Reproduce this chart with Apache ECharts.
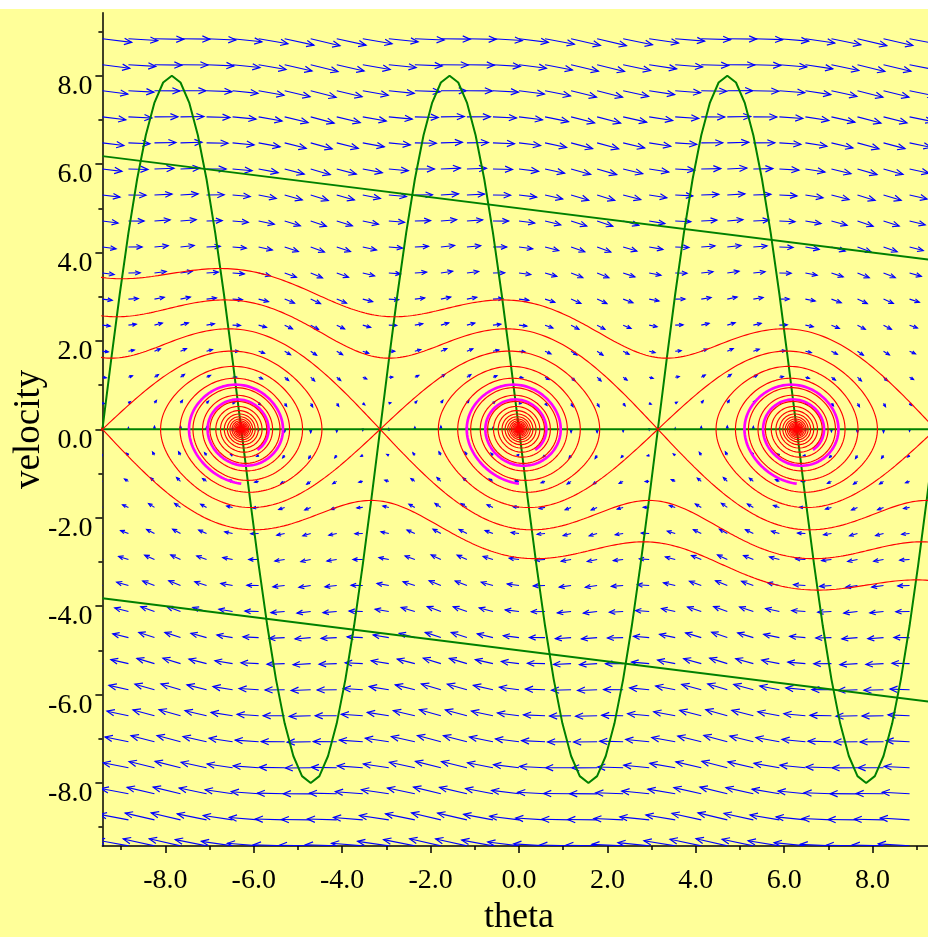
<!DOCTYPE html>
<html>
<head>
<meta charset="utf-8">
<script src="https://cdn.jsdelivr.net/npm/echarts@6/dist/echarts.min.js"></script>
<style>
html,body{margin:0;padding:0;background:#ffffff;width:928px;height:937px;overflow:hidden;}
#chart{position:absolute;left:0;top:9px;width:928px;height:928px;background:#ffff99;}
</style>
</head>
<body>
<div id="chart"></div>
<script>
const PI = Math.PI;

// ---- axes (both axes run from -3π to 3π) ----
const thetaMin = -3 * PI, thetaMax = 3 * PI;
const velMin = -3 * PI, velMax = 3 * PI;
const majorTicks = [-8, -6, -4, -2, 0, 2, 4, 6, 8];
const minorTicks = [-9, -7, -5, -3, -1, 1, 3, 5, 7, 9];
const xTitle = 'theta';
const yTitle = 'velocity';

// ---- damped pendulum: theta' = v, v' = -damping*v - gravity*sin(theta) ----
const gravity = 1.0;
const damping = 0.125;
const arrowScale = 0.075;       // arrow length per unit of field magnitude
const dirGridCount = 32;        // direction-field grid, 32 x 32
const saddleThetas = [-3 * PI, -PI, PI, 3 * PI];
const centerThetas = [-2 * PI, 0, 2 * PI];
const magentaStartV = -1.23;    // sample trajectory starts below each centre
const magentaDuration = 12.6;

// ---- green curves ----
// nullcline sampled every π/16 from -3π to 3π
const nullSineV = [
  0, 1.561, 3.061, 4.445, 5.657, 6.652, 7.391, 7.846, 8, 7.846, 7.391, 6.652, 5.657, 4.445, 3.061, 1.561,
  0, -1.561, -3.061, -4.445, -5.657, -6.652, -7.391, -7.846, -8, -7.846, -7.391, -6.652, -5.657, -4.445, -3.061, -1.561,
  0, 1.561, 3.061, 4.445, 5.657, 6.652, 7.391, 7.846, 8, 7.846, 7.391, 6.652, 5.657, 4.445, 3.061, 1.561,
  0, -1.561, -3.061, -4.445, -5.657, -6.652, -7.391, -7.846, -8, -7.846, -7.391, -6.652, -5.657, -4.445, -3.061, -1.561,
  0, 1.561, 3.061, 4.445, 5.657, 6.652, 7.391, 7.846, 8, 7.846, 7.391, 6.652, 5.657, 4.445, 3.061, 1.561,
  0, -1.561, -3.061, -4.445, -5.657, -6.652, -7.391, -7.846, -8, -7.846, -7.391, -6.652, -5.657, -4.445, -3.061, -1.561,
  0
];
const zeroLine = [[thetaMin, 0], [thetaMax, 0]];
const upperLine = [[thetaMin, 6.18], [thetaMax, 3.82]];
const lowerLine = [[thetaMin, -3.82], [thetaMax, -6.18]];

// ---------------------------------------------------------------
function deriv(th, v) { return [v, -damping * v - gravity * Math.sin(th)]; }

function integrate(th, v, dt, tMax) {
  const pts = [[th, v]];
  const n = Math.round(tMax / Math.abs(dt));
  for (let i = 0; i < n; i++) {
    const k1 = deriv(th, v);
    const k2 = deriv(th + dt / 2 * k1[0], v + dt / 2 * k1[1]);
    const k3 = deriv(th + dt / 2 * k2[0], v + dt / 2 * k2[1]);
    const k4 = deriv(th + dt * k3[0], v + dt * k3[1]);
    th += dt / 6 * (k1[0] + 2 * k2[0] + 2 * k3[0] + k4[0]);
    v += dt / 6 * (k1[1] + 2 * k2[1] + 2 * k3[1] + k4[1]);
    pts.push([th, v]);
    if (th < thetaMin - 1 || th > thetaMax + 1 || v < velMin - 1 || v > velMax + 1) break;
  }
  return pts;
}

const nullSine = nullSineV.map((v, i) => [thetaMin + i * PI / 16, v]);

// direction field
const step = (thetaMax - thetaMin) / dirGridCount;
const arrows = [];
for (let i = 0; i < dirGridCount; i++) {
  for (let j = 0; j < dirGridCount; j++) {
    const th = thetaMin + j * step, v = velMin + i * step;
    const d = deriv(th, v);
    arrows.push([th, v, d[0] * arrowScale, d[1] * arrowScale]);
  }
}

// separatrices through every saddle
const disc = Math.sqrt(damping * damping + 4 * gravity);
const lamU = (-damping + disc) / 2, lamS = (-damping - disc) / 2;
const eps = 1e-5;
const redPaths = [];
saddleThetas.forEach(s => {
  redPaths.push(integrate(s + eps, eps * lamU, 0.02, 110));
  redPaths.push(integrate(s - eps, -eps * lamU, 0.02, 110));
  redPaths.push(integrate(s - eps, -eps * lamS, -0.02, 60));
  redPaths.push(integrate(s + eps, eps * lamS, -0.02, 60));
});
const magentaPaths = centerThetas.map(c => integrate(c, magentaStartV, 0.02, magentaDuration));

// ---------------------------------------------------------------
const chart = echarts.init(document.getElementById('chart'), null, { renderer: 'canvas' });
const serif = '"Liberation Serif", "Times New Roman", serif';
const labelFont = { fontFamily: serif, fontSize: 28, color: '#000' };
const axisLineStyle = { color: '#000', width: 1.5 };

const series = [];
series.push({
  type: 'custom', name: 'field', data: arrows, clip: true, silent: true, animation: false, z: 2,
  renderItem: function (params, api) {
    const th = api.value(0), v = api.value(1), dth = api.value(2), dv = api.value(3);
    const p0 = api.coord([th, v]);
    const p1 = api.coord([th + dth, v + dv]);
    const dx = p1[0] - p0[0], dy = p1[1] - p0[1];
    const L = Math.hypot(dx, dy);
    if (L < 0.5) {
      return { type: 'rect', shape: { x: p0[0] - 0.7, y: p0[1] - 0.7, width: 1.4, height: 1.4 }, style: { fill: '#0000ff' } };
    }
    const ux = dx / L, uy = dy / L;
    const h = Math.min(7.5, 0.3 * L + 1.6);
    const w = h * 0.42;
    const bx = p1[0] - ux * h, by = p1[1] - uy * h;
    return {
      type: 'group', children: [
        { type: 'line', shape: { x1: p0[0], y1: p0[1], x2: p1[0], y2: p1[1] }, style: { stroke: '#0000ff', lineWidth: 1.1 } },
        { type: 'polyline', shape: { points: [[bx - uy * w, by + ux * w], [p1[0], p1[1]], [bx + uy * w, by - ux * w]] }, style: { stroke: '#0000ff', fill: null, lineWidth: 1.2 } }
      ]
    };
  }
});

function lineSeries(data, color, width, z) {
  return { type: 'line', data: data, showSymbol: false, symbol: 'none', clip: true, silent: true, animation: false,
    lineStyle: { color: color, width: width }, z: z };
}
[zeroLine, nullSine, upperLine, lowerLine].forEach(d => series.push(lineSeries(d, '#008000', 2, 3)));
magentaPaths.forEach(d => series.push(lineSeries(d, '#ff00ff', 2.7, 4)));
redPaths.forEach(d => series.push(lineSeries(d, '#ff0000', 1.15, 5)));

const fmt = v => Number(v).toFixed(1);

chart.setOption({
  animation: false,
  backgroundColor: 'transparent',
  grid: { left: 102.4, top: 3.7, width: 833.2, height: 833.2, containLabel: false, outerBoundsMode: 'none' },
  xAxis: [
    {
      type: 'value', min: thetaMin, max: thetaMax, position: 'bottom',
      name: xTitle, nameLocation: 'middle', nameGap: 51,
      nameTextStyle: { fontFamily: serif, fontSize: 36, color: '#000', lineHeight: 36 },
      axisLine: { show: true, onZero: false, lineStyle: axisLineStyle },
      axisTick: { show: true, length: 7, customValues: majorTicks, lineStyle: axisLineStyle },
      axisLabel: Object.assign({ show: true, customValues: majorTicks, formatter: fmt, margin: 21, lineHeight: 28 }, labelFont),
      splitLine: { show: false }
    },
    {
      type: 'value', min: thetaMin, max: thetaMax, position: 'bottom',
      axisLine: { show: false, onZero: false },
      axisTick: { show: true, length: 4, customValues: minorTicks, lineStyle: axisLineStyle },
      axisLabel: { show: false }, splitLine: { show: false }
    }
  ],
  yAxis: [
    {
      type: 'value', min: velMin, max: velMax, position: 'left',
      name: yTitle, nameLocation: 'middle', nameGap: 55, nameRotate: 90, nameMoveOverlap: false,
      nameTextStyle: { fontFamily: serif, fontSize: 37, color: '#000', lineHeight: 37 },
      axisLine: { show: true, onZero: false, lineStyle: axisLineStyle },
      axisTick: { show: true, length: 7, customValues: majorTicks, lineStyle: axisLineStyle },
      axisLabel: Object.assign({ show: true, customValues: majorTicks, formatter: fmt, margin: 10,
        verticalAlign: 'top', lineHeight: 22 }, labelFont),
      splitLine: { show: false }
    },
    {
      type: 'value', min: velMin, max: velMax, position: 'left',
      axisLine: { show: false, onZero: false },
      axisTick: { show: true, length: 4, customValues: minorTicks, lineStyle: axisLineStyle },
      axisLabel: { show: false }, splitLine: { show: false }
    }
  ],
  series: series
});
</script>
</body>
</html>
